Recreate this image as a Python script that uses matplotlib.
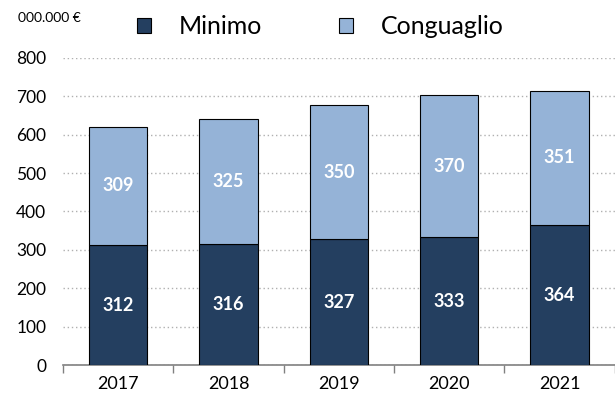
import matplotlib
matplotlib.use("Agg")
import matplotlib.pyplot as plt
import numpy as np

years = ["2017", "2018", "2019", "2020", "2021"]
minimo = [312, 316, 327, 333, 364]
conguaglio = [309, 325, 350, 370, 351]

dark = "#243f60"
light = "#95b3d7"

plt.rcParams['font.family'] = ['Lato', 'DejaVu Sans']

fig = plt.figure(figsize=(6.15, 3.97), dpi=100)
ax = fig.add_axes([0.1024, 0.0806, 0.897, 0.7734])

x = np.arange(len(years))
w = 0.53
b1 = ax.bar(x, minimo, w, color=dark, edgecolor="black", linewidth=0.8, label="Minimo", zorder=3)
b2 = ax.bar(x, conguaglio, w, bottom=minimo, color=light, edgecolor="black", linewidth=0.8,
            label="Conguaglio", zorder=3)

# value labels centred in each segment
for i in range(len(years)):
    ax.text(x[i], minimo[i] / 2, str(minimo[i]), ha="center", va="center",
            color="white", fontsize=13, fontweight="bold", zorder=4)
    ax.text(x[i], minimo[i] + conguaglio[i] / 2, str(conguaglio[i]), ha="center", va="center",
            color="white", fontsize=13, fontweight="bold", zorder=4)

ax.set_xlim(-0.5, len(years) - 0.5)
ax.set_ylim(0, 800)
ax.set_yticks(range(0, 801, 100))
ax.yaxis.grid(True, linestyle=(0, (1, 2)), color="#b0b0b0", linewidth=1, zorder=0)
ax.set_axisbelow(True)

# year labels at bar centres, small ticks between categories
ax.set_xticks(x)
ax.set_xticklabels(years)
ax.set_xticks(np.arange(-0.5, len(years)), minor=True)
ax.tick_params(axis="x", which="major", length=0, pad=8, labelsize=13)
ax.tick_params(axis="x", which="minor", length=6, color="#808080", width=1)
ax.tick_params(axis="y", length=0, pad=12, labelsize=12.5)

for s in ["top", "right", "left"]:
    ax.spines[s].set_visible(False)
ax.spines["bottom"].set_color("#808080")
ax.spines["bottom"].set_linewidth(1.2)

fig.text(0.03, 0.955, "000.000 €", fontsize=10, ha="left", va="center")
fig.legend(handles=[b1, b2], loc="center left", bbox_to_anchor=(0.223, 0.932), ncol=2, frameon=False,
           fontsize=18, handlelength=0.55, handleheight=0.55, handletextpad=1.1, columnspacing=3.1,
           borderpad=0, borderaxespad=0)

fig.savefig("out.png", dpi=100)
